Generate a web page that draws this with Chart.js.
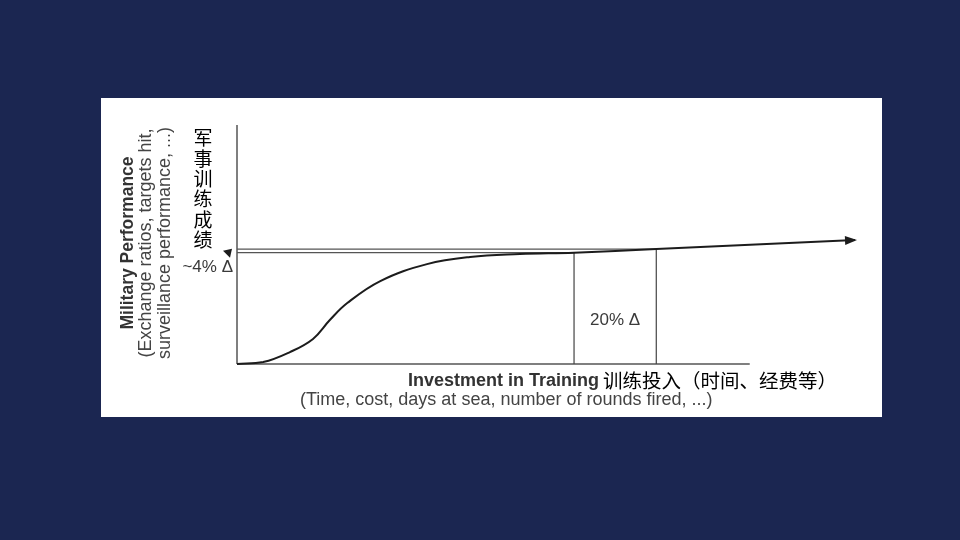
<!DOCTYPE html>
<html>
<head>
<meta charset="utf-8">
<script src="https://cdn.jsdelivr.net/npm/chart.js@4"></script>
<style>
  html, body { margin: 0; padding: 0; background: #1b2651; }
  canvas { display: block; }
</style>
</head>
<body>
<canvas id="trainingChart" width="960" height="540"></canvas>
<script>
'use strict';

// learning curve: investment (x) vs performance (y)
var curveX = [0, 4.2, 8.5, 12.2, 14.9, 17.7, 23.0, 30.5, 37.4, 45.4, 54.1, 67.3, 99.2];
var curveY = [0, 0.8, 5.0, 10.5, 18.4, 25.5, 34.7, 41.8, 44.8, 46.0, 46.6, 48.1, 51.9];

// the 20% investment step and the ~4% performance step it buys
var stepX = [54.1, 67.3];
var stepY = [46.6, 48.1];

// axis extents
var xAxisEnd = 82.3;
var yAxisEnd = 100;

var yTitle = ['Military Performance', '(Exchange ratios, targets hit,', 'surveillance performance, ...)'];
var yTitleCn = ['军', '事', '训', '练', '成', '绩'];
var xTitle = ['Investment in Training', '训练投入（时间、经费等）', '(Time, cost, days at sea, number of rounds fired, ...)'];
var stepLabels = ['~4% Δ', '20% Δ'];

function seg(x0, y0, x1, y1) {
  return [{ x: x0, y: y0 }, { x: x1, y: y1 }];
}

function lineSet(data, color, width) {
  return {
    data: data,
    showLine: true,
    borderColor: color,
    borderWidth: width,
    pointRadius: 0,
    tension: 0,
    clip: false
  };
}

var curveData = curveX.map(function (x, i) { return { x: x, y: curveY[i] }; });

var datasets = [
  {
    data: curveData,
    showLine: true,
    borderColor: '#1c1c1c',
    borderWidth: 2,
    pointRadius: 0,
    tension: 0.4,
    clip: false
  },
  lineSet(seg(0, stepY[1], stepX[1], stepY[1]), '#555', 1.3),
  lineSet(seg(0, stepY[0], stepX[0], stepY[0]), '#555', 1.3),
  lineSet(seg(stepX[0], 0, stepX[0], stepY[0]), '#444', 1.2),
  lineSet(seg(stepX[1], 0, stepX[1], stepY[1]), '#444', 1.2),
  lineSet(seg(0, 0, 0, yAxisEnd), '#555', 1.5),
  lineSet(seg(0, 0, xAxisEnd, 0), '#555', 1.5)
];

var decorPlugin = {
  id: 'decor',
  beforeDraw: function (chart) {
    var ctx = chart.ctx;
    ctx.save();
    ctx.fillStyle = '#1b2651';
    ctx.fillRect(0, 0, chart.width, chart.height);
    ctx.fillStyle = '#ffffff';
    ctx.fillRect(101, 98, 781, 319);
    ctx.restore();
  },
  afterDraw: function (chart) {
    var ctx = chart.ctx;
    var xs = chart.scales.x, ys = chart.scales.y;
    var n = curveX.length;
    ctx.save();

    // arrow head at the end of the curve
    var tx = xs.getPixelForValue(curveX[n - 1]), ty = ys.getPixelForValue(curveY[n - 1]);
    var px = xs.getPixelForValue(curveX[n - 2]), py = ys.getPixelForValue(curveY[n - 2]);
    var ang = Math.atan2(ty - py, tx - px);
    ctx.fillStyle = '#1c1c1c';
    ctx.beginPath();
    ctx.moveTo(tx + 2, ty);
    ctx.lineTo(tx - 10 * Math.cos(ang) + 4.5 * Math.sin(ang), ty - 10 * Math.sin(ang) - 4.5 * Math.cos(ang));
    ctx.lineTo(tx - 10 * Math.cos(ang) - 4.5 * Math.sin(ang), ty - 10 * Math.sin(ang) + 4.5 * Math.cos(ang));
    ctx.closePath();
    ctx.fill();

    // small pointer next to the level lines
    var ax = xs.getPixelForValue(0);
    var ay = ys.getPixelForValue(stepY[0]);
    ctx.beginPath();
    ctx.moveTo(ax - 14, ay - 2);
    ctx.lineTo(ax - 5, ay - 4);
    ctx.lineTo(ax - 7, ay + 5);
    ctx.closePath();
    ctx.fill();

    // step labels
    ctx.fillStyle = '#3a3a3a';
    ctx.font = '17px "Liberation Sans", Arial, sans-serif';
    ctx.textBaseline = 'middle';
    ctx.textAlign = 'right';
    ctx.fillText(stepLabels[0], ax - 4, ay + 15);
    ctx.textAlign = 'center';
    ctx.fillText(stepLabels[1], (xs.getPixelForValue(stepX[0]) + xs.getPixelForValue(stepX[1])) / 2, 320);

    // y axis titles (rotated)
    ctx.save();
    ctx.translate(128, 243);
    ctx.rotate(-Math.PI / 2);
    ctx.textAlign = 'center';
    ctx.fillStyle = '#333';
    ctx.font = 'bold 17.5px "Liberation Sans", Arial, sans-serif';
    ctx.fillText(yTitle[0], 0, 0);
    ctx.fillStyle = '#444';
    ctx.font = '18px "Liberation Sans", Arial, sans-serif';
    ctx.fillText(yTitle[1], 0, 18.5);
    ctx.fillText(yTitle[2], 0, 37);
    ctx.restore();

    // vertical chinese y title
    ctx.fillStyle = '#000';
    ctx.textAlign = 'center';
    ctx.font = '19px "Noto Sans CJK SC", sans-serif';
    yTitleCn.forEach(function (ch, i) {
      ctx.fillText(ch, 203, 138 + i * 20.4);
    });

    // x axis titles
    ctx.textAlign = 'left';
    ctx.fillStyle = '#333';
    ctx.font = 'bold 18px "Liberation Sans", Arial, sans-serif';
    ctx.fillText(xTitle[0], 408, 381);
    var w = ctx.measureText(xTitle[0]).width;
    ctx.fillStyle = '#000';
    ctx.font = '19.5px "Noto Sans CJK SC", sans-serif';
    ctx.fillText(xTitle[1], 408 + w + 4, 381);
    ctx.fillStyle = '#444';
    ctx.font = '18px "Liberation Sans", Arial, sans-serif';
    ctx.fillText(xTitle[2], 300, 400);

    ctx.restore();
  }
};

var ctx = document.getElementById('trainingChart').getContext('2d');
var chart = new Chart(ctx, {
  type: 'scatter',
  data: { datasets: datasets },
  options: {
    responsive: false,
    animation: false,
    events: [],
    layout: { padding: { left: 237, top: 125, right: 100, bottom: 176 } },
    plugins: { legend: { display: false }, tooltip: { enabled: false } },
    scales: {
      x: { type: 'linear', min: 0, max: 100, display: false },
      y: { type: 'linear', min: 0, max: 100, display: false }
    }
  },
  plugins: [decorPlugin]
});
</script>
</body>
</html>
